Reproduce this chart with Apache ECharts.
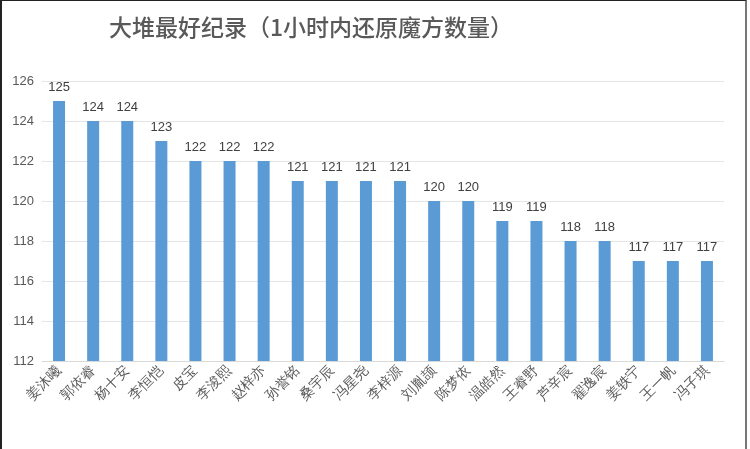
<!DOCTYPE html>
<html>
<head>
<meta charset="utf-8">
<script src="https://cdn.jsdelivr.net/npm/echarts@6/dist/echarts.min.js"></script>
<style>
    html, body { margin: 0; padding: 0; background: #fff; }
    #main { width: 747px; height: 449px; border-top: 1px solid #222; border-left: 2px solid #222; border-right: 2px solid #777; box-sizing: border-box; }
</style>
</head>
<body>
<div id="main"></div>
<script>
// 大堆最好纪录
var names = ['姜沐曦', '郭依睿', '杨十安', '李恒恺', '皮宝', '李浚熙', '赵梓亦', '孙誉铭', '桑宇辰', '冯星尧', '李梓源',
    '刘胤颉', '陈梦依', '温皓然', '王睿野', '芦辛宸', '翟逸宸', '姜轶宁', '王一帆', '冯子琪'];
var counts = [125, 124, 124, 123, 122, 122, 122, 121, 121, 121, 121, 120, 120, 119, 119, 118, 118, 117, 117, 117];
var yMin = 112, yMax = 126, yStep = 2;

var myChart = echarts.init(document.getElementById('main'));
var option = {
    backgroundColor: '#FFF',
    title: {
        text: '大堆最好纪录（1小时内还原魔方数量）',
        left: 304,
        textAlign: 'center',
        top: 10,
        textStyle: {
            fontFamily: 'Noto Sans CJK SC',
            fontSize: 23,
            fontWeight: 500,
            color: '#595959'
        }
    },
    grid: {
        left: 40,
        right: 21,
        top: 80,
        bottom: 88
    },
    xAxis: {
        type: 'category',
        data: names,
        axisLine: { lineStyle: { color: '#d9d9d9', width: 1 } },
        axisTick: { show: false },
        axisLabel: {
            rotate: 45,
            interval: 0,
            color: '#595959',
            fontSize: 14,
            fontFamily: 'serif',
            margin: 8
        }
    },
    yAxis: {
        type: 'value',
        min: yMin,
        max: yMax,
        interval: yStep,
        axisLine: { show: false },
        axisTick: { show: false },
        axisLabel: { color: '#595959', fontSize: 13, margin: 8 },
        splitLine: { lineStyle: { color: '#e5e5e5', width: 1 } }
    },
    series: [{
        type: 'bar',
        data: counts,
        barWidth: 12,
        itemStyle: { color: '#5b9bd5' },
        label: {
            show: true,
            position: 'top',
            distance: 7,
            color: '#404040',
            fontSize: 13
        }
    }]
};
myChart.setOption(option);
</script>
</body>
</html>
